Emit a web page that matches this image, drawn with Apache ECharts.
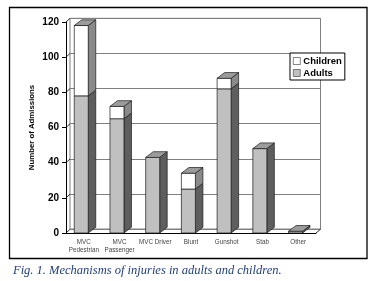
<!DOCTYPE html>
<html><head><meta charset="utf-8">
<script src="https://cdn.jsdelivr.net/npm/echarts@6/dist/echarts.min.js"></script>
<style>html,body{margin:0;padding:0;background:#fff}#c{width:374px;height:281px}</style>
</head><body><div id="c"></div>
<script>
const categories = ['MVC\nPedestrian', 'MVC\nPassenger', 'MVC Driver', 'Blunt', 'Gunshot', 'Stab', 'Other'];
const adults = [78, 65, 43, 25, 82, 48, 1];
const children = [40, 7, 0, 9, 6, 0, 0];
const yTicks = [0, 20, 40, 60, 80, 100, 120];
const caption = 'Fig. 1. Mechanisms of injuries in adults and children.';

const DX = 7.5, DY = -5.7, FW = 14, OFF = -9.6;
function barItem(kind) {
  return function (params, api) {
    const i = api.value(0), v0 = api.value(1), v1 = api.value(2), top = api.value(3);
    if (v1 <= v0) return;
    const c0 = api.coord([i, v0]), c1 = api.coord([i, v1]);
    const x0 = c0[0] + OFF, x1 = x0 + FW;
    const yb = c0[1], yt = c1[1];
    const front = kind === 'a' ? '#c0c0c0' : '#ffffff';
    const side = kind === 'a' ? '#5e5e5e' : '#8a8a8a';
    const st = {stroke: '#1a1a1a', lineWidth: 0.7};
    const ch = [
      {type: 'polygon', shape: {points: [[x1, yb], [x1 + DX, yb + DY], [x1 + DX, yt + DY], [x1, yt]]}, style: Object.assign({fill: side}, st)},
      {type: 'rect', shape: {x: x0, y: yt, width: FW, height: yb - yt}, style: Object.assign({fill: front}, st)}
    ];
    if (top) ch.push({type: 'polygon', shape: {points: [[x0, yt], [x0 + DX, yt + DY], [x1 + DX, yt + DY], [x1, yt]]}, style: Object.assign({fill: '#9c9c9c'}, st)});
    return {type: 'group', children: ch};
  };
}
const adultData = adults.map((v, i) => [i, 0, v, children[i] === 0 ? 1 : 0]);
const childData = children.map((v, i) => [i, adults[i], adults[i] + v, 1]);

const chart = echarts.init(document.getElementById('c'), null, {renderer: 'canvas'});
chart.setOption({
  animation: false,
  backgroundColor: '#fff',
  title: {text: caption, left: 8, top: 259, textStyle: {fontFamily: 'Liberation Serif', fontStyle: 'italic', fontWeight: 'normal', fontSize: 12.5, color: '#22407a'}},
  graphic: [{type: 'rect', shape: {x: 9.5, y: 7.5, width: 357.5, height: 251}, style: {fill: 'none', stroke: '#000', lineWidth: 1.3}, z: -10}],
  legend: {
    data: ['Children', 'Adults'], orient: 'vertical', left: 290, top: 53,
    backgroundColor: '#fff', borderColor: '#000', borderWidth: 1, borderRadius: 0,
    padding: [3, 3, 2, 3], itemGap: 2, itemWidth: 7, itemHeight: 7, icon: 'rect',
    itemStyle: {borderWidth: 0.6, borderColor: '#333'},
    textStyle: {fontFamily: 'Liberation Sans', fontWeight: 'bold', fontSize: 9.5, color: '#000', padding: [0, 0, 0, -2]}
  },
  grid: [
    {left: 66, right: 58, top: 22, bottom: 48},
    {left: 70, right: 53.5, top: 18.3, bottom: 52, show: true, borderColor: '#808080', borderWidth: 1, backgroundColor: 'transparent'}
  ],
  xAxis: [
    {type: 'category', gridIndex: 0, data: categories, axisLine: {lineStyle: {color: '#000', width: 1}},
     axisTick: {length: 3, lineStyle: {color: '#000'}},
     axisLabel: {fontFamily: 'Liberation Sans', fontSize: 6.3, color: '#444', margin: 5, lineHeight: 8, interval: 0}},
    {type: 'category', gridIndex: 1, data: categories, show: false}
  ],
  yAxis: [
    {type: 'value', gridIndex: 0, min: 0, max: 120, interval: 20,
     name: 'Number of Admissions', nameLocation: 'middle', nameGap: 30, nameMoveOverlap: false,
     nameTextStyle: {fontFamily: 'Liberation Sans', fontWeight: 'bold', fontSize: 7.8, color: '#000'},
     axisLine: {show: true, lineStyle: {color: '#000', width: 1}},
     axisTick: {show: true, length: 4, lineStyle: {color: '#000'}},
     axisLabel: {fontFamily: 'Liberation Sans', fontWeight: 'bold', fontSize: 10, color: '#000', margin: 7},
     splitLine: {show: false}},
    {type: 'value', gridIndex: 1, min: 0, max: 120, interval: 20,
     axisLine: {show: false}, axisTick: {show: false}, axisLabel: {show: false},
     splitLine: {show: true, lineStyle: {color: '#808080', width: 1}}}
  ],
  series: [
    {name: 'frame', type: 'custom', xAxisIndex: 0, yAxisIndex: 0, silent: true, z: 1,
     data: yTicks.map(v => [0, v]),
     renderItem: function (params, api) {
       const cs = params.coordSys;
       const y = api.coord([0, api.value(1)])[1];
       const ch = [{type: 'line', shape: {x1: cs.x, y1: y, x2: cs.x + 4, y2: y - 3.7}, style: {stroke: '#000', lineWidth: 0.8}}];
       if (params.dataIndex === 0) ch.push({type: 'line', shape: {x1: cs.x + cs.width, y1: y, x2: cs.x + cs.width + 4.5, y2: y - 3.7}, style: {stroke: '#000', lineWidth: 0.8}});
       return {type: 'group', children: ch};
     }},
    {name: 'Adults', type: 'custom', xAxisIndex: 0, yAxisIndex: 0, z: 3,
     itemStyle: {color: '#c0c0c0', borderColor: '#000', borderWidth: 1},
     encode: {x: 0, y: 2}, data: adultData, renderItem: barItem('a')},
    {name: 'Children', type: 'custom', xAxisIndex: 0, yAxisIndex: 0, z: 3,
     itemStyle: {color: '#ffffff', borderColor: '#000', borderWidth: 1},
     encode: {x: 0, y: 2}, data: childData, renderItem: barItem('c')}
  ]
});
</script></body></html>
